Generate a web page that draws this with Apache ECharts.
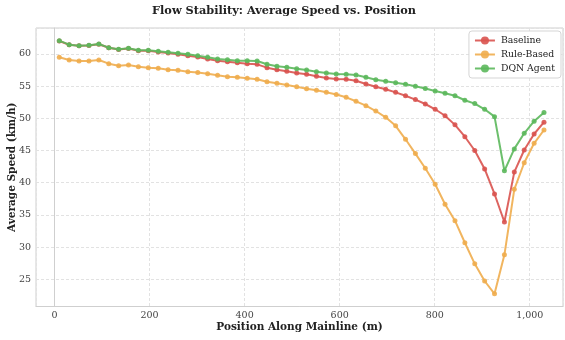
<!DOCTYPE html>
<html>
<head>
<meta charset="utf-8">
<script src="https://cdn.jsdelivr.net/npm/echarts@6/dist/echarts.min.js"></script>
<style>
  html, body { margin: 0; padding: 0; background: #fff; }
  #chart { width: 565px; height: 340px; }
</style>
</head>
<body>
<div id="chart"></div>
<script>
// position along mainline (m)
const positions = [10, 30.8, 51.6, 72.4, 93.3, 114.1, 134.9, 155.7, 176.5, 197.3,
  218.2, 239, 259.8, 280.6, 301.4, 322.2, 343.1, 363.9, 384.7, 405.5,
  426.3, 447.1, 468, 488.8, 509.6, 530.4, 551.2, 572, 592.9, 613.7,
  634.5, 655.3, 676.1, 696.9, 717.8, 738.6, 759.4, 780.2, 801, 821.8,
  842.7, 863.5, 884.3, 905.1, 925.9, 946.7, 967.5, 988.4, 1009.2, 1030]

const baseline = [62.0, 61.4, 61.25, 61.3, 61.5, 60.95, 60.68, 60.83, 60.5, 60.48,
  60.3, 60.12, 59.95, 59.72, 59.52, 59.21, 58.95, 58.79, 58.64, 58.48,
  58.38, 57.86, 57.55, 57.29, 57.03, 56.83, 56.52, 56.26, 56.12, 56.05,
  55.84, 55.33, 54.91, 54.5, 54.03, 53.5, 52.9, 52.22, 51.4, 50.4,
  48.98, 47.14, 45.0, 42.13, 38.25, 33.9, 41.65, 45.08, 47.56, 49.4]

const ruleBased = [59.47, 59.05, 58.9, 58.9, 59.05, 58.48, 58.17, 58.28, 58.02, 57.86,
  57.76, 57.55, 57.45, 57.24, 57.12, 56.93, 56.67, 56.46, 56.36, 56.21,
  56.05, 55.69, 55.43, 55.17, 54.91, 54.6, 54.34, 54.03, 53.7, 53.26,
  52.64, 51.96, 51.13, 50.15, 48.83, 46.74, 44.52, 42.24, 39.75, 36.65,
  34.1, 30.68, 27.4, 24.74, 22.75, 28.8, 38.98, 43.1, 46.12, 48.18]

const dqnAgent = [62.05, 61.43, 61.28, 61.33, 61.54, 60.97, 60.71, 60.87, 60.55, 60.55,
  60.4, 60.24, 60.09, 59.94, 59.72, 59.47, 59.21, 59.1, 58.94, 58.94,
  58.9, 58.39, 58.07, 57.92, 57.7, 57.5, 57.24, 57.03, 56.88, 56.83,
  56.72, 56.36, 56.0, 55.74, 55.53, 55.28, 54.98, 54.62, 54.24, 53.9,
  53.5, 52.8, 52.28, 51.4, 50.26, 41.85, 45.25, 47.67, 49.55, 50.9]

const seriesNames = ['Baseline', 'Rule-Based', 'DQN Agent']
const seriesColors = ['#d9534f', '#f0ad4e', '#5cb85c']

const font = 'DejaVu Serif'
const pair = (ys) => positions.map((x, i) => [x, ys[i]])

var myChart = echarts.init(document.getElementById('chart'))
myChart.setOption({
  animation: false,
  textStyle: { fontFamily: font },
  title: {
    text: 'Flow Stability: Average Speed vs. Position',
    left: 279, top: 1, textAlign: 'center',
    textStyle: { fontFamily: font, fontSize: 11.3, fontWeight: 'bold', color: '#222' }
  },
  legend: {
    orient: 'vertical',
    right: 4, top: 31,
    padding: [5, 6, 5, 5],
    itemGap: 5,
    itemWidth: 20, itemHeight: 10,
    backgroundColor: '#fff',
    borderColor: '#d5d5d5', borderWidth: 1, borderRadius: 3,
    textStyle: { fontFamily: font, fontSize: 9.3, color: '#222', padding: [0, 0, 0, 1] },
    data: seriesNames
  },
  grid: {
    left: 36, right: 2, top: 28, bottom: 33.5,
    outerBoundsMode: 'none',
    containLabel: false,
    show: true, borderColor: '#cfcfcf', borderWidth: 1
  },
  xAxis: {
    type: 'value',
    min: -39, max: 1070,
    splitNumber: 5,
    name: 'Position Along Mainline (m)',
    nameLocation: 'middle', nameGap: 15,
    nameMoveOverlap: false,
    nameTextStyle: { fontFamily: font, fontSize: 10.5, fontWeight: 'bold', color: '#222' },
    axisLine: { show: true, lineStyle: { color: '#cfcfcf' } },
    axisTick: { show: false },
    axisLabel: { fontFamily: font, fontSize: 9.5, color: '#444', margin: 4, showMinLabel: false, showMaxLabel: false },
    splitLine: { show: true, lineStyle: { color: '#e2e2e2', type: [3, 2] } }
  },
  yAxis: {
    type: 'value',
    min: 20.78, max: 64.02,
    splitNumber: 8,
    name: 'Average Speed (km/h)',
    nameLocation: 'middle', nameGap: 18,
    nameMoveOverlap: false,
    nameTextStyle: { fontFamily: font, fontSize: 10.5, fontWeight: 'bold', color: '#222' },
    axisLine: { show: true, lineStyle: { color: '#cfcfcf' } },
    axisTick: { show: false },
    axisLabel: { fontFamily: font, fontSize: 9.5, color: '#444', margin: 5, showMinLabel: false, showMaxLabel: false },
    splitLine: { show: true, lineStyle: { color: '#e2e2e2', type: [3, 2] } }
  },
  series: [baseline, ruleBased, dqnAgent].map((ys, k) => ({
    name: seriesNames[k],
    type: 'line',
    data: pair(ys),
    symbol: 'circle',
    symbolSize: 5,
    lineStyle: { width: 2, color: seriesColors[k], opacity: 0.9 },
    itemStyle: { color: seriesColors[k], opacity: 0.9 },
    emphasis: { disabled: true },
    z: 2 + k
  }))
})
</script>
</body>
</html>
